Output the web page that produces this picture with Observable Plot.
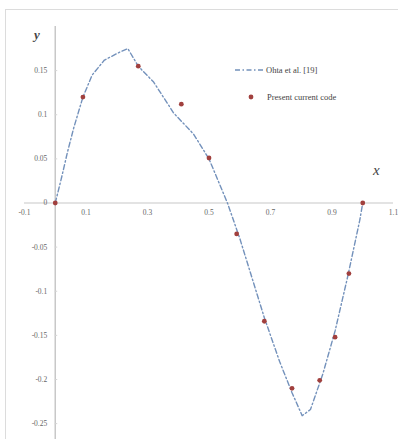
<!DOCTYPE html>
<html>
<head>
<meta charset="utf-8">
<script src="https://cdn.jsdelivr.net/npm/d3@7"></script>
<script src="https://cdn.jsdelivr.net/npm/@observablehq/plot@0.6"></script>
<style>
  html, body { margin: 0; padding: 0; background: #fff; }
  #wrap { position: relative; width: 398px; height: 439px; overflow: hidden; }
  #border { position: absolute; left: 5px; top: 9px; right: -5px; bottom: -5px; border-left: 1.5px solid #dcdcdc; border-top: 1.5px solid #dcdcdc; pointer-events: none; }
  .lbl { position: absolute; font-family: "Liberation Serif", serif; font-style: italic; color: #444; }
  #legend { position: absolute; left: 234px; top: 63px; font-family: "Liberation Serif", serif; font-size: 8.5px; color: #444; }
  #legend div { display: flex; align-items: center; height: 14px; margin-bottom: 13px; }
  #legend svg { margin-right: 2px; }
</style>
</head>
<body>
<div id="wrap">
  <div id="chart"></div>
  <div id="border"></div>
  <div class="lbl" style="left:34px; top:27px; font-size:13px; font-weight:bold;">y</div>
  <div class="lbl" style="left:373px; top:162px; font-size:15px;">x</div>
  <div id="legend">
    <div><svg width="30" height="6"><line x1="1" y1="3" x2="30" y2="3" stroke="#7391bb" stroke-width="1.4" stroke-dasharray="5,2.5,1.5,2.5"/></svg><span>Ohta et al. [19]</span></div>
    <div><svg width="30" height="8"><circle cx="17" cy="4" r="2.4" fill="#a1403e"/></svg><span style="margin-left:1px">Present current code</span></div>
  </div>
</div>
<script>
// Ohta et al. [19] reference curve
const ohtaX = [0, 0.02, 0.04, 0.06, 0.09, 0.12, 0.16, 0.21, 0.236, 0.27, 0.32, 0.385, 0.45, 0.50, 0.56, 0.60, 0.64, 0.68, 0.73, 0.77, 0.803, 0.83, 0.87, 0.91, 0.95, 0.99, 1.0];
const ohtaY = [0, 0.028, 0.058, 0.085, 0.12, 0.145, 0.162, 0.171, 0.175, 0.155, 0.137, 0.102, 0.078, 0.05, 0, -0.04, -0.085, -0.13, -0.18, -0.215, -0.241, -0.234, -0.194, -0.145, -0.085, -0.02, 0];

// Present current code
const presX = [0, 0.09, 0.27, 0.41, 0.50, 0.59, 0.68, 0.77, 0.86, 0.91, 0.955, 1.0];
const presY = [0, 0.12, 0.155, 0.112, 0.051, -0.035, -0.134, -0.21, -0.201, -0.152, -0.08, 0];

// Tick labels
const xTickVals = [-0.1, 0.1, 0.3, 0.5, 0.7, 0.9, 1.1];
const xTickLabels = ["-0.1", "0.1", "0.3", "0.5", "0.7", "0.9", "1.1"];
const yTickVals = [0.15, 0.1, 0.05, 0, -0.05, -0.1, -0.15, -0.2, -0.25];
const yTickLabels = ["0.15", "0.1", "0.05", "0", "-0.05", "-0.1", "-0.15", "-0.2", "-0.25"];

const ohta = ohtaX.map((x, i) => ({x, y: ohtaY[i]}));
const pres = presX.map((x, i) => ({x, y: presY[i]}));
const xt = xTickVals.map((v, i) => ({v, t: xTickLabels[i]}));
const yt = yTickVals.map((v, i) => ({v, t: yTickLabels[i]}));

const font = "Liberation Serif, serif";
const chart = Plot.plot({
  width: 398,
  height: 439,
  marginLeft: 24,
  marginRight: 5,
  marginTop: 26,
  marginBottom: 0,
  x: {type: "linear", domain: [-0.1, 1.1], axis: null},
  y: {type: "linear", domain: [-0.268, 0.2], axis: null},
  style: {fontFamily: font, background: "white"},
  marks: [
    Plot.ruleY([0], {stroke: "#c8c8c8", strokeWidth: 1.2}),
    Plot.ruleX([0], {stroke: "#c8c8c8", strokeWidth: 1.5}),
    Plot.ruleY(yt, {y: "v", x1: () => 0, x2: () => 0.008, stroke: "#d4d4d4", strokeWidth: 1}),
    Plot.text(xt, {x: "v", y: () => 0, text: "t", dy: 10, fontSize: 7.5, fill: "#666"}),
    Plot.text(yt, {x: () => 0, y: "v", text: "t", dx: -8, textAnchor: "end", fontSize: 7.5, fill: "#666"}),
    Plot.line(ohta, {x: "x", y: "y", stroke: "#7391bb", strokeWidth: 1.4, strokeDasharray: "5,2.5,1.5,2.5"}),
    Plot.dot(pres, {x: "x", y: "y", r: 2.4, fill: "#a1403e", stroke: "none"})
  ]
});
document.getElementById("chart").appendChild(chart);
</script>
</body>
</html>
